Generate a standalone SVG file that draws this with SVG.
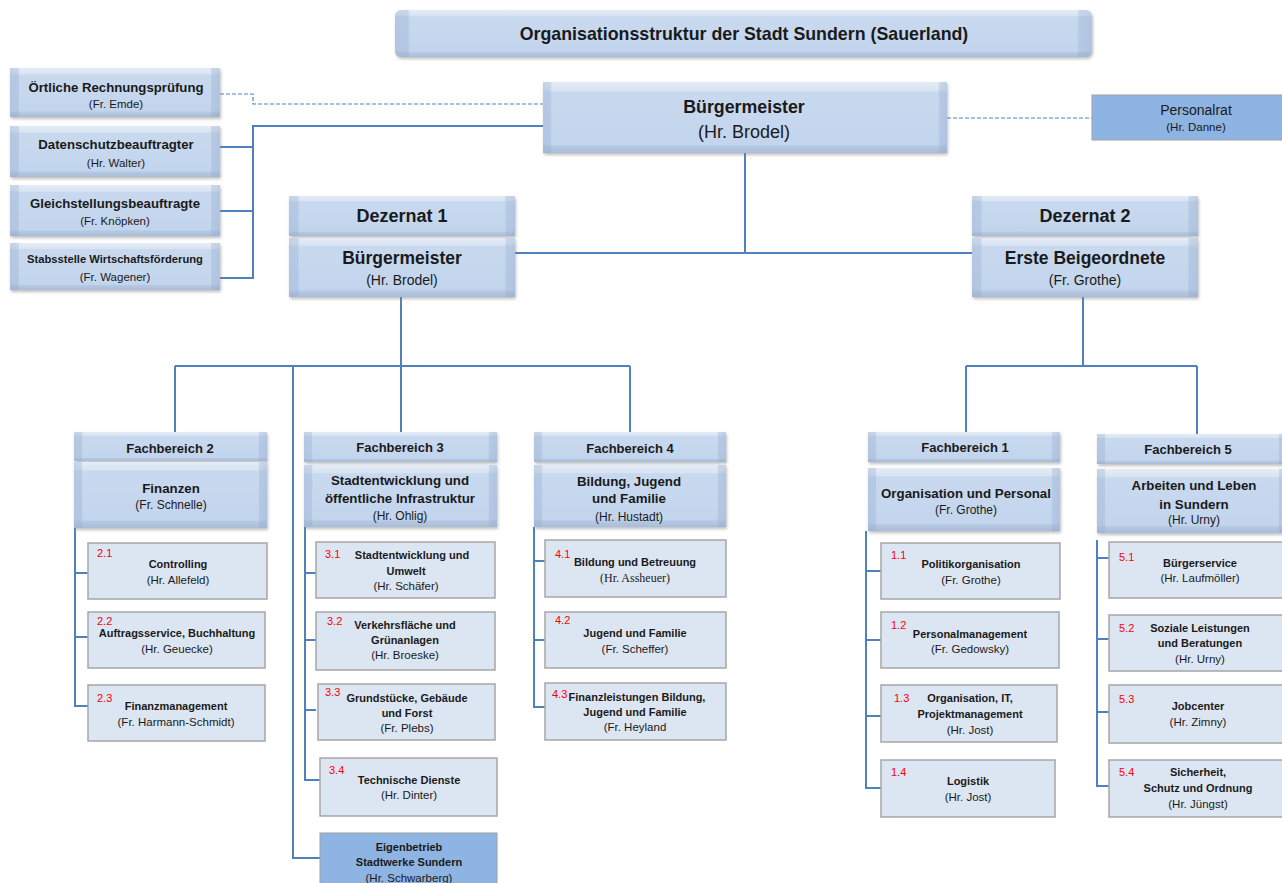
<svg xmlns="http://www.w3.org/2000/svg" width="1282" height="883" viewBox="0 0 1282 883">
<style>
.bv{fill:url(#gV);filter:url(#sh)}
.bh{fill:url(#gH)}
.sub{fill:#dce6f2;stroke:#a6a6a6;stroke-width:1.5}
.dk{fill:#8eb4e3;stroke:#a0a0a0;stroke-width:1}
.ln{stroke:#4f81bd;stroke-width:2;fill:none}
.ds{stroke:#4f81bd;stroke-width:1.2;stroke-dasharray:4 2;fill:none}
text{font-family:"Liberation Sans",Arial,sans-serif;fill:#1a1a1a;text-anchor:middle}
.b{font-weight:bold}
.n{fill:#ff0000;text-anchor:start;font-size:11px}
.t{font-size:11px;font-weight:bold}
.p{font-size:11.5px}
.fh{font-size:13px;font-weight:bold}
.ft{font-size:13.3px;font-weight:bold}
.fp{font-size:12px}
.st{font-size:13.2px;font-weight:bold}
.sp{font-size:11.5px}
.serif{font-family:"Liberation Serif","Times New Roman",serif}
</style>
<defs>
<linearGradient id="gV" x1="0" y1="0" x2="0" y2="1">
<stop offset="0" stop-color="#e4ecf6"/><stop offset="0.12" stop-color="#d9e4f2"/><stop offset="0.14" stop-color="#c8d9ef"/><stop offset="0.88" stop-color="#c3d5ed"/><stop offset="0.9" stop-color="#b6c9e3"/><stop offset="1" stop-color="#aabdd8"/>
</linearGradient>
<linearGradient id="gH" x1="0" y1="0" x2="1" y2="0">
<stop offset="0" stop-color="#8fa8cc" stop-opacity="0.35"/><stop offset="0.04" stop-color="#8fa8cc" stop-opacity="0.3"/><stop offset="0.045" stop-color="#8fa8cc" stop-opacity="0"/><stop offset="0.955" stop-color="#8fa8cc" stop-opacity="0"/><stop offset="0.96" stop-color="#8fa8cc" stop-opacity="0.3"/><stop offset="1" stop-color="#8fa8cc" stop-opacity="0.4"/>
</linearGradient>
<linearGradient id="gH2" x1="0" y1="0" x2="1" y2="0">
<stop offset="0" stop-color="#8fa8cc" stop-opacity="0.35"/><stop offset="0.018" stop-color="#8fa8cc" stop-opacity="0.3"/><stop offset="0.022" stop-color="#8fa8cc" stop-opacity="0"/><stop offset="0.978" stop-color="#8fa8cc" stop-opacity="0"/><stop offset="0.982" stop-color="#8fa8cc" stop-opacity="0.3"/><stop offset="1" stop-color="#8fa8cc" stop-opacity="0.4"/>
</linearGradient>
<filter id="sh" x="-5%" y="-10%" width="110%" height="130%">
<feDropShadow dx="1" dy="2" stdDeviation="1.5" flood-color="#808080" flood-opacity="0.5"/>
</filter>
</defs>

<g id="connectors">
<path class="ds" d="M220,94 H253 V104 H543"/>
<path class="ds" d="M947,118 H1092"/>
<path class="ln" d="M543,126 H253 V278 H220 M220,147 H253 M220,211 H253"/>
<path class="ln" d="M745,153 V253 M515,253 H972"/>
<path class="ln" d="M401,297 V366 M175,366 H630 M175,366 V432 M401,366 V432 M630,366 V432 M293,366 V858 H320"/>
<path class="ln" d="M1083,297 V366 M966,366 H1197 M966,366 V432 M1197,366 V434"/>
<path class="ln" d="M75,528 V706 H88 M75,573 H88 M75,637 H88"/>
<path class="ln" d="M305,527 V780 H320 M305,573 H316 M305,640 H316 M305,710 H316"/>
<path class="ln" d="M534,527 V707 H545 M534,561 H545 M534,640 H545"/>
<path class="ln" d="M866,531 V788 H881 M866,571 H881 M866,640 H881 M866,716 H881"/>
<path class="ln" d="M1097,540 V786 H1109 M1097,558 H1109 M1097,639 H1109 M1097,712 H1109"/>
</g>

<g id="title">
<rect class="bv" x="395" y="10" width="697" height="47" rx="6"/><rect x="395" y="10" width="697" height="47" rx="6" fill="url(#gH2)"/>
<text class="b" x="744" y="40" font-size="17.8">Organisationsstruktur der Stadt Sundern (Sauerland)</text>
</g>

<g id="buergermeister">
<rect class="bv" x="543" y="82" width="404" height="71"/><rect x="543" y="82" width="404" height="71" fill="url(#gH2)"/>
<text class="b" x="744" y="113" font-size="17.8">Bürgermeister</text>
<text x="744" y="138" font-size="18">(Hr. Brodel)</text>
</g>

<g id="personalrat">
<rect class="dk" x="1092" y="95" width="192" height="45"/>
<text x="1196" y="115" font-size="14">Personalrat</text>
<text x="1196" y="131" font-size="11.5">(Hr. Danne)</text>
</g>

<g id="staff1">
<rect class="bv" x="10" y="68" width="210" height="49"/><rect class="bh" x="10" y="68" width="210" height="49"/>
<text class="st" x="116" y="92">Örtliche Rechnungsprüfung</text>
<text class="sp" x="116" y="108">(Fr. Emde)</text>
</g>
<g id="staff2">
<rect class="bv" x="10" y="126" width="210" height="51"/><rect class="bh" x="10" y="126" width="210" height="51"/>
<text class="st" x="116" y="149">Datenschutzbeauftragter</text>
<text class="sp" x="116" y="167">(Hr. Walter)</text>
</g>
<g id="staff3">
<rect class="bv" x="10" y="185" width="210" height="51"/><rect class="bh" x="10" y="185" width="210" height="51"/>
<text class="st" x="115" y="208">Gleichstellungsbeauftragte</text>
<text class="sp" x="115" y="225">(Fr. Knöpken)</text>
</g>
<g id="staff4">
<rect class="bv" x="10" y="243" width="210" height="47"/><rect class="bh" x="10" y="243" width="210" height="47"/>
<text x="115" y="263" font-size="11.2" font-weight="bold">Stabsstelle Wirtschaftsförderung</text>
<text class="sp" x="115" y="281">(Fr. Wagener)</text>
</g>

<g id="dezernat1">
<rect class="bv" x="289" y="196" width="226" height="40"/><rect class="bh" x="289" y="196" width="226" height="40"/>
<rect class="bv" x="289" y="238" width="226" height="59"/><rect class="bh" x="289" y="238" width="226" height="59"/>
<text class="b" x="402" y="222" font-size="18">Dezernat 1</text>
<text class="b" x="402" y="264" font-size="17.5">Bürgermeister</text>
<text x="402" y="285" font-size="14">(Hr. Brodel)</text>
</g>
<g id="dezernat2">
<rect class="bv" x="972" y="196" width="226" height="40"/><rect class="bh" x="972" y="196" width="226" height="40"/>
<rect class="bv" x="972" y="238" width="226" height="59"/><rect class="bh" x="972" y="238" width="226" height="59"/>
<text class="b" x="1085" y="222" font-size="18">Dezernat 2</text>
<text class="b" x="1085" y="264" font-size="17.5">Erste Beigeordnete</text>
<text x="1085" y="285" font-size="14">(Fr. Grothe)</text>
</g>

<g id="fb2">
<rect class="bv" x="74" y="432" width="193" height="29"/><rect class="bh" x="74" y="432" width="193" height="29"/>
<rect class="bv" x="74" y="462" width="193" height="66"/><rect class="bh" x="74" y="462" width="193" height="66"/>
<text class="fh" x="170" y="453">Fachbereich 2</text>
<text class="ft" x="171" y="493">Finanzen</text>
<text class="fp" x="171" y="509">(Fr. Schnelle)</text>
</g>
<g id="fb2-1"><rect class="sub" x="88" y="543" width="179" height="56"/><text class="n" x="97" y="557">2.1</text><text class="t" x="178" y="568">Controlling</text><text class="p" x="178" y="584">(Hr. Allefeld)</text></g>
<g id="fb2-2"><rect class="sub" x="88" y="612" width="177" height="56"/><text class="n" x="97" y="625">2.2</text><text class="t" x="177" y="637">Auftragsservice, Buchhaltung</text><text class="p" x="177" y="653">(Hr. Geuecke)</text></g>
<g id="fb2-3"><rect class="sub" x="88" y="685" width="177" height="56"/><text class="n" x="97" y="702">2.3</text><text class="t" x="176" y="710">Finanzmanagement</text><text class="p" x="176" y="726">(Fr. Harmann-Schmidt)</text></g>

<g id="fb3">
<rect class="bv" x="304" y="432" width="193" height="30"/><rect class="bh" x="304" y="432" width="193" height="30"/>
<rect class="bv" x="304" y="465" width="193" height="62"/><rect class="bh" x="304" y="465" width="193" height="62"/>
<text class="fh" x="400" y="452">Fachbereich 3</text>
<text class="ft" x="400" y="485">Stadtentwicklung und</text>
<text class="ft" x="400" y="503">öffentliche Infrastruktur</text>
<text class="fp" x="400" y="520">(Hr. Ohlig)</text>
</g>
<g id="fb3-1"><rect class="sub" x="316" y="542" width="179" height="56"/><text class="n" x="325" y="558">3.1</text><text class="t" x="412" y="559">Stadtentwicklung und</text><text class="t" x="406" y="575">Umwelt</text><text class="p" x="406" y="590">(Hr. Schäfer)</text></g>
<g id="fb3-2"><rect class="sub" x="316" y="612" width="179" height="58"/><text class="n" x="327" y="625">3.2</text><text class="t" x="405" y="629">Verkehrsfläche und</text><text class="t" x="405" y="644">Grünanlagen</text><text class="p" x="405" y="659">(Hr. Broeske)</text></g>
<g id="fb3-3"><rect class="sub" x="318" y="684" width="177" height="56"/><text class="n" x="325" y="696">3.3</text><text class="t" x="407" y="702">Grundstücke, Gebäude</text><text class="t" x="407" y="717">und Forst</text><text class="p" x="407" y="732">(Fr. Plebs)</text></g>
<g id="fb3-4"><rect class="sub" x="320" y="758" width="177" height="58"/><text class="n" x="329" y="774">3.4</text><text class="t" x="409" y="784">Technische Dienste</text><text class="p" x="409" y="799">(Hr. Dinter)</text></g>
<g id="eigenbetrieb"><rect class="dk" x="320" y="833" width="177" height="56"/><text class="t" x="409" y="851">Eigenbetrieb</text><text class="t" x="409" y="866">Stadtwerke Sundern</text><text class="p" x="409" y="882">(Hr. Schwarberg)</text></g>

<g id="fb4">
<rect class="bv" x="534" y="432" width="192" height="30"/><rect class="bh" x="534" y="432" width="192" height="30"/>
<rect class="bv" x="534" y="465" width="192" height="62"/><rect class="bh" x="534" y="465" width="192" height="62"/>
<text class="fh" x="630" y="453">Fachbereich 4</text>
<text class="ft" x="629" y="486">Bildung, Jugend</text>
<text class="ft" x="629" y="503">und Familie</text>
<text class="fp" x="629" y="521">(Hr. Hustadt)</text>
</g>
<g id="fb4-1"><rect class="sub" x="545" y="540" width="181" height="57"/><text class="n" x="555" y="558">4.1</text><text class="t" x="635" y="566">Bildung und Betreuung</text><text class="serif" x="635" y="582" font-size="12">(Hr. Assheuer)</text></g>
<g id="fb4-2"><rect class="sub" x="545" y="612" width="181" height="56"/><text class="n" x="555" y="624">4.2</text><text class="t" x="635" y="637">Jugend und Familie</text><text class="p" x="635" y="653">(Fr. Scheffer)</text></g>
<g id="fb4-3"><rect class="sub" x="545" y="683" width="181" height="57"/><text class="n" x="552" y="698">4.3</text><text class="t" x="637" y="701">Finanzleistungen Bildung,</text><text class="t" x="635" y="716">Jugend und Familie</text><text class="p" x="635" y="731">(Fr. Heyland</text></g>

<g id="fb1">
<rect class="bv" x="868" y="432" width="192" height="30"/><rect class="bh" x="868" y="432" width="192" height="30"/>
<rect class="bv" x="868" y="468" width="192" height="63"/><rect class="bh" x="868" y="468" width="192" height="63"/>
<text class="fh" x="965" y="452">Fachbereich 1</text>
<text class="ft" x="966" y="498">Organisation und Personal</text>
<text class="fp" x="966" y="514">(Fr. Grothe)</text>
</g>
<g id="fb1-1"><rect class="sub" x="881" y="543" width="179" height="56"/><text class="n" x="891" y="559">1.1</text><text class="t" x="971" y="568">Politikorganisation</text><text class="p" x="971" y="584">(Fr. Grothe)</text></g>
<g id="fb1-2"><rect class="sub" x="881" y="612" width="178" height="56"/><text class="n" x="891" y="629">1.2</text><text class="t" x="970" y="638">Personalmanagement</text><text class="p" x="970" y="653">(Fr. Gedowsky)</text></g>
<g id="fb1-3"><rect class="sub" x="881" y="685" width="176" height="57"/><text class="n" x="894" y="702">1.3</text><text class="t" x="970" y="702">Organisation, IT,</text><text class="t" x="970" y="718">Projektmanagement</text><text class="p" x="970" y="734">(Hr. Jost)</text></g>
<g id="fb1-4"><rect class="sub" x="881" y="760" width="174" height="57"/><text class="n" x="891" y="776">1.4</text><text class="t" x="968" y="785">Logistik</text><text class="p" x="968" y="801">(Hr. Jost)</text></g>

<g id="fb5">
<rect class="bv" x="1097" y="434" width="190" height="30"/><rect class="bh" x="1097" y="434" width="190" height="30"/>
<rect class="bv" x="1097" y="469" width="190" height="64"/><rect class="bh" x="1097" y="469" width="190" height="64"/>
<text class="fh" x="1188" y="454">Fachbereich 5</text>
<text class="ft" x="1194" y="490">Arbeiten und Leben</text>
<text class="ft" x="1194" y="509">in Sundern</text>
<text class="fp" x="1194" y="524">(Hr. Urny)</text>
</g>
<g id="fb5-1"><rect class="sub" x="1109" y="542" width="178" height="56"/><text class="n" x="1119" y="561">5.1</text><text class="t" x="1200" y="567">Bürgerservice</text><text class="p" x="1200" y="582">(Hr. Laufmöller)</text></g>
<g id="fb5-2"><rect class="sub" x="1109" y="615" width="178" height="56"/><text class="n" x="1119" y="632">5.2</text><text class="t" x="1200" y="632">Soziale Leistungen</text><text class="t" x="1200" y="647">und Beratungen</text><text class="p" x="1200" y="663">(Hr. Urny)</text></g>
<g id="fb5-3"><rect class="sub" x="1109" y="685" width="178" height="58"/><text class="n" x="1119" y="703">5.3</text><text class="t" x="1198" y="710">Jobcenter</text><text class="p" x="1198" y="726">(Hr. Zimny)</text></g>
<g id="fb5-4"><rect class="sub" x="1109" y="760" width="178" height="57"/><text class="n" x="1119" y="776">5.4</text><text class="t" x="1198" y="776">Sicherheit,</text><text class="t" x="1198" y="792">Schutz und Ordnung</text><text class="p" x="1198" y="808">(Hr. Jüngst)</text></g>
</svg>
